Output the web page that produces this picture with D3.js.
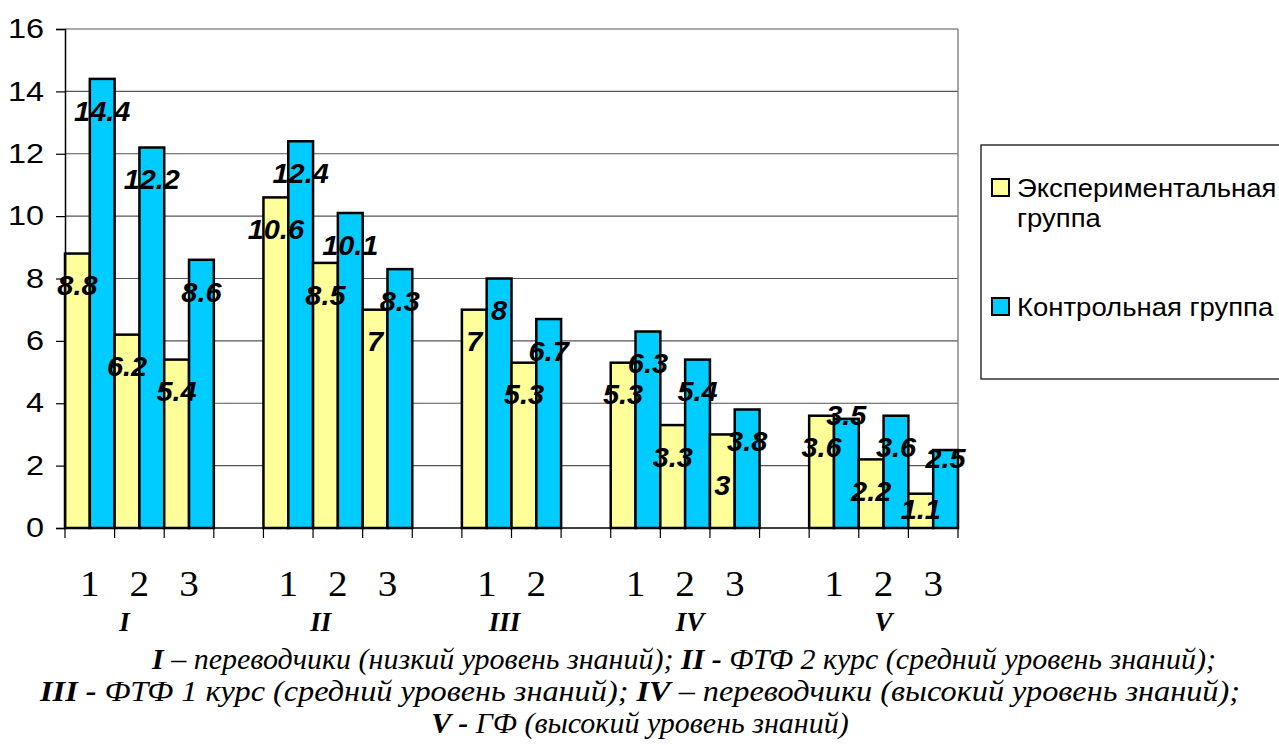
<!DOCTYPE html>
<html>
<head>
<meta charset="utf-8">
<script src="https://cdn.jsdelivr.net/npm/d3@7"></script>
<style>
  body { margin: 0; background: #fff; }
  svg { display: block; }
</style>
</head>
<body>
<div id="chart"></div>
<script>
// slots along the x axis (empty slots are the gaps between groups)
const slots = ["I-1","I-2","I-3","gap1","II-1","II-2","II-3","gap2","III-1","III-2","gap3",
               "IV-1","IV-2","IV-3","gap4","V-1","V-2","V-3"]
const slotLabels = ["1","2","3","","1","2","3","","1","2","","1","2","3","","1","2","3"]
const groupNames = ["I","II","III","IV","V"]
const groupSlots = [["I-1","I-3"],["II-1","II-3"],["III-1","III-2"],["IV-1","IV-3"],["V-1","V-3"]]

const experimental = [8.8,6.2,5.4,null,10.6,8.5,7,null,7,5.3,null,5.3,3.3,3,null,3.6,2.2,1.1]
const control      = [14.4,12.2,8.6,null,12.4,10.1,8.3,null,8,6.7,null,6.3,5.4,3.8,null,3.5,3.6,2.5]

const seriesNames = ["Экспериментальная группа", "Контрольная группа"]
const yTicks = [0,2,4,6,8,10,12,14,16]

const captionLines = [
  [["I", true], [" – переводчики (низкий уровень знаний); ", false], ["II -", true], [" ФТФ 2 курс (средний уровень знаний);", false]],
  [["III -", true], [" ФТФ 1 курс (средний уровень знаний); ", false], ["IV", true], [" – переводчики (высокий уровень знаний);", false]],
  [["V -", true], [" ГФ (высокий уровень знаний)", false]]
]
// the caption was a justified paragraph: centre per line, line 2 spread wider
const captionCenter = [684, 640, 640]
const captionWidth = [null, 1200, null]

// a few data labels were dragged by hand in the original
const labelNudge = {"IV-3|exp": 19, "V-3|exp": -16, "V-1|ctl": -36, "V-3|ctl": -24}
// group names were typed a little off-centre
const groupShift = [-15, -17, -7, 5, 0]

const W = 1279, H = 745
const margin = {top: 29, left: 65, right: 321, bottom: 217}
const plotW = W - margin.left - margin.right
const plotH = H - margin.top - margin.bottom

// the original picture is a bit wider than tall, so glyphs look stretched
function stretch(sel, k) {
    sel.each(function() {
        const len = this.getComputedTextLength()
        d3.select(this).attr("textLength", len * k).attr("lengthAdjust", "spacingAndGlyphs")
    })
}

const svg = d3.select("#chart").append("svg")
    .attr("width", W)
    .attr("height", H)

const g = svg.append("g")
    .attr("transform", `translate(${margin.left},${margin.top})`)

const x = d3.scaleBand().domain(slots).range([0, plotW]).padding(0)
const sub = d3.scaleBand().domain(["exp","ctl"]).range([0, x.bandwidth()])
const y = d3.scaleLinear().domain([0, 16]).range([plotH, 0])
const color = d3.scaleOrdinal().domain(["exp","ctl"]).range(["#FFFF99", "#00CCFF"])

// gridlines
g.selectAll("line.grid")
    .data(yTicks.slice(1))
    .enter().append("line")
    .attr("class", "grid")
    .attr("x1", 0).attr("x2", plotW)
    .attr("y1", d => y(d)).attr("y2", d => y(d))
    .attr("stroke", "#555")
    .attr("stroke-width", 1.2)

// right border of plot area
g.append("line")
    .attr("x1", plotW).attr("x2", plotW)
    .attr("y1", 0).attr("y2", plotH)
    .attr("stroke", "#888")
    .attr("stroke-width", 1.5)

// bars
const rows = []
slots.forEach((s, i) => {
    if (experimental[i] != null) rows.push({slot: s, key: "exp", value: experimental[i]})
    if (control[i] != null) rows.push({slot: s, key: "ctl", value: control[i]})
})

g.selectAll("rect.bar")
    .data(rows)
    .enter().append("rect")
    .attr("class", "bar")
    .attr("x", d => x(d.slot) + sub(d.key))
    .attr("y", d => y(d.value))
    .attr("width", sub.bandwidth())
    .attr("height", d => plotH - y(d.value))
    .attr("fill", d => color(d.key))
    .attr("stroke", "#000")
    .attr("stroke-width", 2.5)

// data labels
const vals = g.selectAll("text.val")
    .data(rows)
    .enter().append("text")
    .attr("class", "val")
    .attr("x", d => x(d.slot) + sub(d.key) + sub.bandwidth() / 2)
    .attr("y", d => y(d.value) + 32 + (labelNudge[d.slot + "|" + d.key] || 0))
    .attr("dy", "0.36em")
    .attr("text-anchor", "middle")
    .style("font-family", "Arial, 'Liberation Sans', sans-serif")
    .style("font-weight", "bold")
    .style("font-style", "italic")
    .style("font-size", "27px")
    .attr("fill", "#000")
    .text(d => d.value)
stretch(vals, 1.07)

// y axis
const yAxis = d3.axisLeft(y).tickValues(yTicks).tickSize(9).tickPadding(12).tickFormat(d3.format("d"))
const yAxisG = g.append("g").call(yAxis)
yAxisG.select(".domain").attr("stroke", "#000").attr("stroke-width", 1.5)
yAxisG.selectAll(".tick line").attr("stroke", "#000").attr("stroke-width", 1.2)
const yLabels = yAxisG.selectAll(".tick text")
    .style("font-family", "Arial, 'Liberation Sans', sans-serif")
    .style("font-size", "27px")
    .attr("fill", "#000")
stretch(yLabels, 1.2)

// x axis line and boundary ticks
g.append("line")
    .attr("x1", 0).attr("x2", plotW)
    .attr("y1", plotH).attr("y2", plotH)
    .attr("stroke", "#000").attr("stroke-width", 1.5)

const bounds = slots.map(s => x(s)).concat([plotW])
g.selectAll("line.xtick")
    .data(bounds)
    .enter().append("line")
    .attr("class", "xtick")
    .attr("x1", d => d).attr("x2", d => d)
    .attr("y1", plotH).attr("y2", plotH + 10)
    .attr("stroke", "#000").attr("stroke-width", 1.2)

// slot numbers
const slotText = g.selectAll("text.slot")
    .data(slots.filter((d, i) => slotLabels[i] !== ""))
    .enter().append("text")
    .attr("class", "slot")
    .attr("x", d => x(d) + x.bandwidth() / 2)
    .attr("y", plotH + 68)
    .attr("text-anchor", "middle")
    .style("font-family", "'Liberation Serif', 'Times New Roman', serif")
    .style("font-size", "35px")
    .text(d => slotLabels[slots.indexOf(d)])
stretch(slotText, 1.12)

// group names
g.selectAll("text.group")
    .data(groupNames)
    .enter().append("text")
    .attr("class", "group")
    .attr("x", (d, i) => (x(groupSlots[i][0]) + x(groupSlots[i][1]) + x.bandwidth()) / 2 + groupShift[i])
    .attr("y", plotH + 103)
    .attr("text-anchor", "middle")
    .style("font-family", "'Liberation Serif', 'Times New Roman', serif")
    .style("font-weight", "bold")
    .style("font-style", "italic")
    .style("font-size", "27px")
    .text(d => d)

// caption
captionLines.forEach((line, i) => {
    const t = svg.append("text")
        .attr("x", captionCenter[i])
        .attr("y", 669 + i * 32)
        .attr("text-anchor", "middle")
        .style("font-family", "'Liberation Serif', 'Times New Roman', serif")
        .style("font-style", "italic")
        .style("font-size", "30px")
    if (captionWidth[i]) {
        t.attr("textLength", captionWidth[i]).attr("lengthAdjust", "spacingAndGlyphs")
    }
    line.forEach(part => {
        t.append("tspan")
            .style("font-weight", part[1] ? "bold" : "normal")
            .text(part[0])
    })
})

// legend
const legend = svg.append("g")
legend.append("rect")
    .attr("x", 981).attr("y", 145)
    .attr("width", 320).attr("height", 234)
    .attr("fill", "#fff")
    .attr("stroke", "#000")
    .attr("stroke-width", 1.2)

const legendFont = "Arial, 'Liberation Sans', sans-serif"
const legendItems = [
    {key: "exp", lines: ["Экспериментальная", "группа"], top: 179},
    {key: "ctl", lines: ["Контрольная группа"], top: 298}
]
legendItems.forEach((item, i) => {
    legend.append("rect")
        .attr("x", 992).attr("y", item.top)
        .attr("width", 17).attr("height", 17)
        .attr("fill", color(item.key))
        .attr("stroke", "#000")
        .attr("stroke-width", 2)
    item.lines.forEach((ln, j) => {
        const lt = legend.append("text")
            .attr("x", 1017)
            .attr("y", item.top + 18 + j * 30)
            .style("font-family", legendFont)
            .style("font-size", "25px")
            .text(ln)
        stretch(lt, 1.1)
    })
})
</script>
</body>
</html>
